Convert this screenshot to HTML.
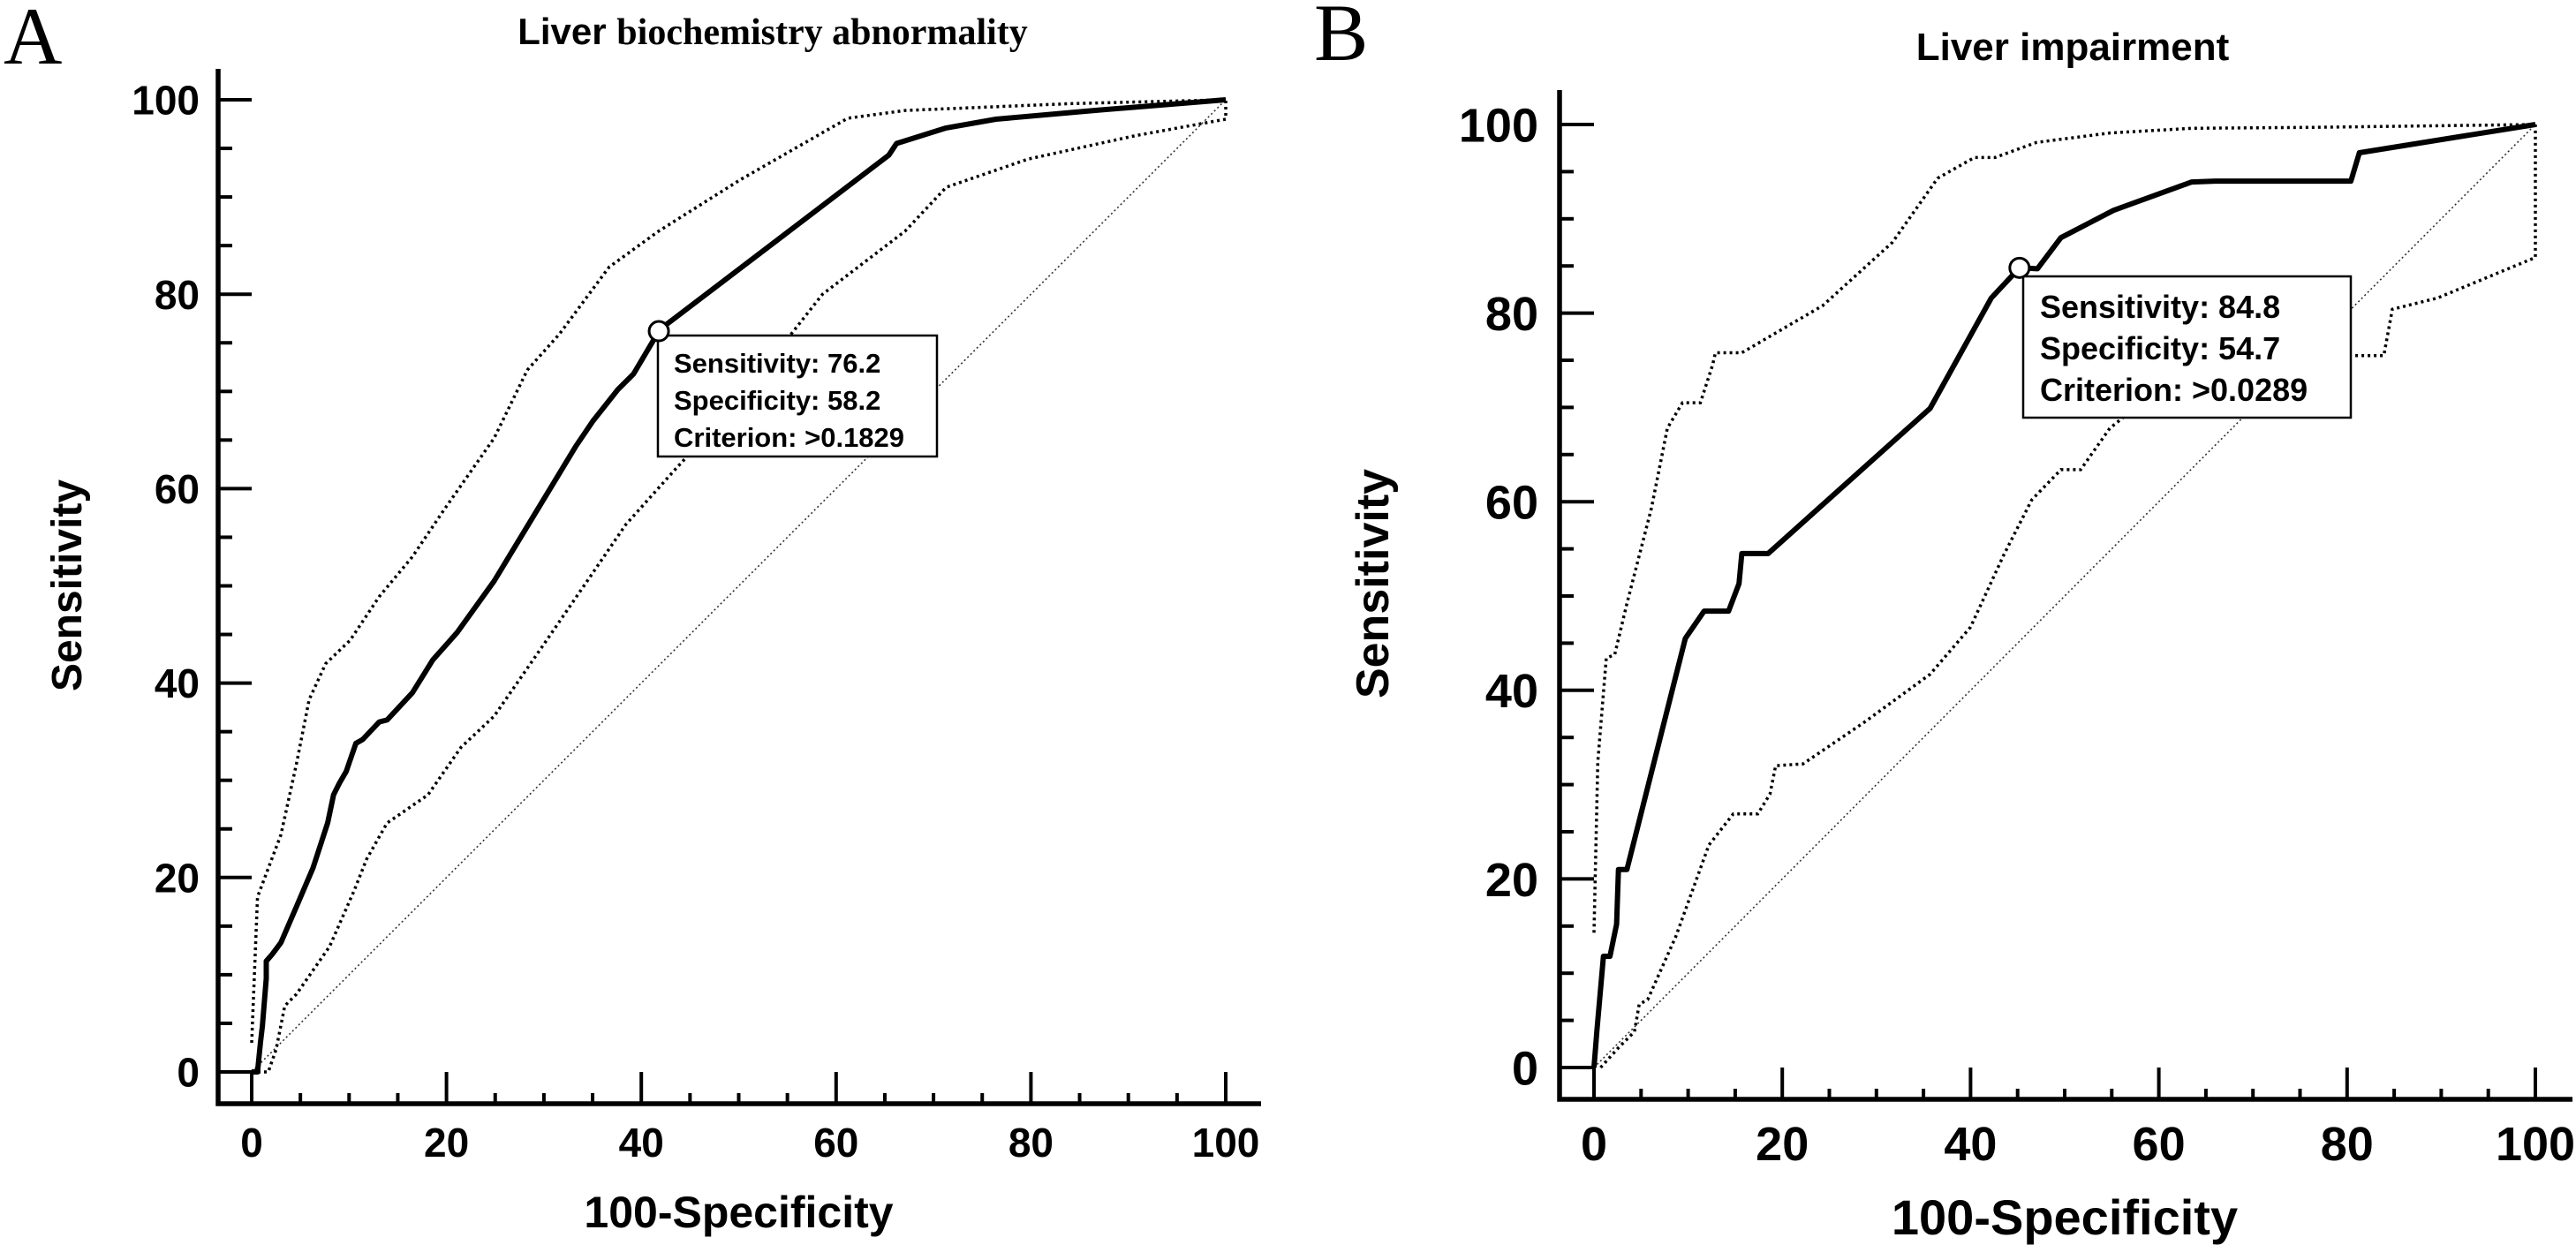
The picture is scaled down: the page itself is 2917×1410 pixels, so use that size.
<!DOCTYPE html>
<html><head><meta charset="utf-8"><style>
html,body{margin:0;padding:0;background:#fff;}
svg{display:block;}
text{font-family:"Liberation Sans",Arial,sans-serif;font-weight:bold;fill:#000;}
</style></head><body>
<svg id="chart" width="2917" height="1410" viewBox="0 0 2917 1410" xmlns="http://www.w3.org/2000/svg">
<text x="4" y="72" style="font-family:'Liberation Serif',serif;font-weight:normal;font-size:92px">A</text>
<text x="1488" y="68" style="font-family:'Liberation Serif',serif;font-weight:normal;font-size:92px">B</text>
<text x="875" y="50" text-anchor="middle" style="font-size:42px">Liver <tspan style="font-family:'Liberation Serif',serif;font-size:42px">biochemistry abnormality</tspan></text>
<text x="2347" y="68" text-anchor="middle" style="font-size:44px">Liver impairment</text>
</svg>
<script>
// Panel A data
const aMainX=[0,0.6,0.9,1.1,1.5,1.5,2.1,3,4.6,6.3,7.8,8.4,9,9.7,10.7,11.4,13.1,13.9,16.5,18.6,21.1,24.9,33.3,35,37.6,39.2,41.8,42.6,65.4,66.2,71.3,76.4,86.5,100];
const aMainY=[0,0,3,4.7,9.6,11.4,12.1,13.3,17,21,25.6,28.5,29.7,30.9,33.8,34.2,36,36.2,39,42.4,45.2,50.5,64.4,66.9,70.2,71.8,76.2,76.9,94.3,95.5,97.1,98,98.9,100];
const aUpX=[0,0.6,3,4.6,5.9,7.6,10.1,13.1,16.5,19.8,24.9,28.3,31.6,36.7,41.8,50.2,61.2,67.1,84,100];
const aUpY=[3,18,24.4,31.7,38.3,42,44.4,48.9,53,57.9,65.2,72.2,75.9,82.8,86.5,91.8,98.1,98.9,99.6,100];
const aLoX=[0,1.7,2.5,3.4,4.6,8,10.5,11.8,13.9,18.1,21.5,24.9,30,35,38.4,43.5,50.2,58.6,67.1,71.3,79.7,90.7,100,100];
const aLoY=[0,0,2.3,6.8,8,12.9,18.6,21.9,25.6,28.5,33.4,36.6,44,51.3,56.3,62,69.3,80,86.5,91,93.9,96.3,98,100];
const aCut=[41.8,76.2];
const aLabels=["Sensitivity: 76.2","Specificity: 58.2","Criterion: >0.1829"];
// Panel B data
const bMainX=[0,0.3,1,1.7,2.4,2.6,3.5,9.7,11.7,14.3,15.4,15.7,18.5,35.7,42.2,45.2,47.1,49.6,55.2,63.5,66,80.4,81.3,100];
const bMainY=[0,3.8,11.8,11.8,15.2,21,21,45.5,48.4,48.4,51.3,54.5,54.5,69.9,81.6,84.8,84.7,88,90.9,93.9,94,94,97,100];
const bUpX=[0,0.4,1.3,2.2,3.5,6.1,7.8,9.4,11.3,12.6,12.9,15.7,20,24.3,31.7,36.5,40.4,42.6,47,54.8,63.5,76.5,100];
const bUpY=[14.3,32.4,43.4,43.8,49.2,59.3,67.8,70.5,70.5,74.5,75.8,75.8,78.3,80.8,87.5,94.3,96.5,96.5,98.1,99.1,99.6,99.7,100];
const bLoX=[0.7,2.6,4.3,4.8,5.7,8.7,12.2,14.8,17.4,18.7,19.3,22.2,28.7,35.7,40,43.5,46.5,49.6,51.7,54.8,60,68,76.5,83.9,84.8,89.6,100,100];
const bLoY=[0,2.1,3.8,6.7,7.2,13.9,23.6,26.9,26.9,29,32,32.2,36.6,41.7,46.7,54.3,60.2,63.4,63.4,67.8,72,74,75.5,75.5,80.4,81.6,85.9,100];
const bCut=[45.2,84.8];
const bLabels=["Sensitivity: 84.8","Specificity: 54.7","Criterion: >0.0289"];
const ticks=[0,20,40,60,80,100];

const NS="http://www.w3.org/2000/svg";
const svg=document.getElementById('chart');
function mk(tag,attrs,parent){const e=document.createElementNS(NS,tag);for(const k in attrs)e.setAttribute(k,attrs[k]);(parent||svg).appendChild(e);return e;}

function panel(p){
  const g=mk('g',{});
  
  
  const sx=v=>p.x0+(p.x100-p.x0)*v/100;
  const sy=v=>p.y0-(p.y0-p.y100)*v/100;
  const d=mk('line',{x1:sx(0),y1:sy(0),x2:sx(100),y2:sy(100),stroke:'#333','stroke-width':1.6,'stroke-dasharray':'2,3'},g);
  
  
  function poly(xs,ys,attrs,name){
    const pts=xs.map((x,i)=>sx(x).toFixed(1)+','+sy(ys[i]).toFixed(1)).join(' ');
    const e=mk('polyline',Object.assign({points:pts,fill:'none'},attrs),g);
    
    
  }
  poly(p.upX,p.upY,{stroke:'#000','stroke-width':3.5,'stroke-dasharray':'3,4'},'upper-ci-curve');
  poly(p.loX,p.loY,{stroke:'#000','stroke-width':3.5,'stroke-dasharray':'3,4'},'lower-ci-curve');
  poly(p.mX,p.mY,{stroke:'#000','stroke-width':6,'stroke-linejoin':'round'},'roc-curve');
  const ax=mk('path',{d:`M${p.ax},${p.axTop} L${p.ax},${p.ay} L${p.axRight},${p.ay}`,stroke:'#000','stroke-width':5.5,fill:'none'},g);
  
  
  for(let v=0;v<=100;v+=5){
    const major=v%20===0;
    const tx=mk('line',{x1:sx(v),x2:sx(v),y1:p.ay,y2:p.ay-(major?p.ay-p.y0:12),stroke:'#000','stroke-width':4},g);
    
    
    const ty=mk('line',{x1:p.ax,x2:p.ax+(major?p.x0-p.ax:16),y1:sy(v),y2:sy(v),stroke:'#000','stroke-width':4},g);
    
    
  }
  ticks.forEach(v=>{
    const t=mk('text',{x:sx(v),y:p.xLabY,'text-anchor':'middle','font-size':p.fs},g);
    t.textContent=v;
    
    
    const u=mk('text',{x:p.yLabX,y:sy(v)+p.fs*0.36,'text-anchor':'end','font-size':p.fs},g);
    u.textContent=v;
    
    
  });
  const xt=mk('text',{x:(p.x0+p.x100)/2,y:p.xTitleY,'text-anchor':'middle','font-size':p.tfsAxis},g);
  xt.textContent='100-Specificity';
  
  
  const yt=mk('text',{x:0,y:0,'text-anchor':'middle','font-size':p.yfsAxis,transform:`translate(${p.yTitleX},${p.yTitleC}) rotate(-90)`},g);
  yt.textContent='Sensitivity';
  
  
  const bx=mk('rect',{x:p.box[0],y:p.box[1],width:p.box[2],height:p.box[3],fill:'#fff',stroke:'#000','stroke-width':2.5},g);
  
  
  p.labels.forEach((s,i)=>{
    const t=mk('text',{x:p.box[0]+p.tpad,y:p.box[1]+p.tb0+i*p.tls,'font-size':p.tfs},g);
    t.textContent=s;
    
    
  });
  const c=mk('circle',{cx:sx(p.cut[0]),cy:sy(p.cut[1]),r:11,fill:'#fff',stroke:'#000','stroke-width':3},g);
  
  
}
panel({id:'panel-a',x0:285,x100:1388,y0:1214,y100:113,ax:247,ay:1250,axTop:78,axRight:1428,
  mX:aMainX,mY:aMainY,upX:aUpX,upY:aUpY,loX:aLoX,loY:aLoY,cut:aCut,labels:aLabels,
  fs:46,xLabY:1310,yLabX:226,xTitleY:1390,yTitleX:92,yTitleC:663,tfsAxis:50,yfsAxis:48,
  box:[745,380,316,137],tpad:18,tb0:42,tls:42,tfs:31});
panel({id:'panel-b',x0:1805,x100:2871,y0:1209,y100:141,ax:1766,ay:1245,axTop:102,axRight:2913,
  mX:bMainX,mY:bMainY,upX:bUpX,upY:bUpY,loX:bLoX,loY:bLoY,cut:bCut,labels:bLabels,
  fs:54,xLabY:1314,yLabX:1742,xTitleY:1398,yTitleX:1572,yTitleC:661,tfsAxis:56,yfsAxis:52,
  box:[2291,313,371,160],tpad:19,tb0:47,tls:47,tfs:36});
</script>
</body></html>
